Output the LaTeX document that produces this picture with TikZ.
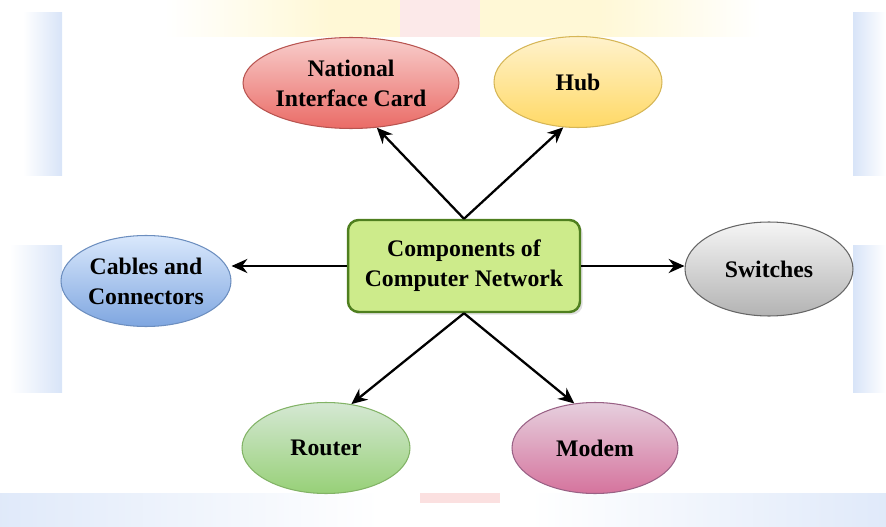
\documentclass[tikz,border=0pt]{standalone}
\usepackage{fontspec}
\setmainfont{Liberation Serif}
\usetikzlibrary{shapes.geometric,arrows.meta,shadows}

\definecolor{hubfill}{HTML}{CDEB8B}
\definecolor{hubdraw}{HTML}{4F7F1F}
\definecolor{wmblue}{HTML}{D8E4F8}
\definecolor{wmyellow}{HTML}{FFF8D6}
\definecolor{wmpink}{HTML}{F9D3D3}
\definecolor{nictop}{HTML}{F8CECC}\definecolor{nicbot}{HTML}{EA6B66}\definecolor{nicdraw}{HTML}{B85450}
\definecolor{hubtop}{HTML}{FFF2CC}\definecolor{hubbot}{HTML}{FFD966}\definecolor{hubline}{HTML}{D6B656}
\definecolor{cabtop}{HTML}{DAE8FC}\definecolor{cabbot}{HTML}{7EA6E0}\definecolor{cabdraw}{HTML}{6C8EBF}
\definecolor{swtop}{HTML}{F5F5F5}\definecolor{swbot}{HTML}{B3B3B3}\definecolor{swdraw}{HTML}{666666}
\definecolor{rttop}{HTML}{D5E8D4}\definecolor{rtbot}{HTML}{97D077}\definecolor{rtdraw}{HTML}{82B366}
\definecolor{mdtop}{HTML}{E6D0DE}\definecolor{mdbot}{HTML}{D5739D}\definecolor{mddraw}{HTML}{996185}

\begin{document}
\begin{tikzpicture}[x=0.02cm,y=-0.02cm,font=\bfseries\fontsize{13.5}{17}\selectfont,
  part/.style={ellipse,draw,line width=0.6pt,minimum width=3.36cm,minimum height=1.82cm,inner sep=0pt,align=center},
  link/.style={line width=1.3pt,-{Stealth[length=9pt,width=8pt]}}]
\useasboundingbox (0,0) rectangle (886,527);

% faint watermark round the white sheet
\begin{scope}
\fill[left color=white,right color=wmyellow] (165,0) rectangle (330,37);
\fill[wmyellow] (330,0) rectangle (600,37);
\fill[wmpink!50] (400,0) rectangle (480,37);
\fill[left color=wmyellow,right color=white] (600,0) rectangle (760,37);
\fill[left color=white,right color=wmblue] (23,13) rectangle (62,175);
\fill[left color=white,right color=wmblue] (10,245) rectangle (62,392);
\fill[left color=wmblue,right color=white] (853,13) rectangle (886,175);
\fill[left color=wmblue,right color=white] (853,245) rectangle (886,392);
\fill[left color=wmblue!80,right color=white] (0,493) rectangle (380,527);
\fill[left color=white,right color=wmblue!80] (530,493) rectangle (886,527);
\fill[wmpink!70] (420,493) rectangle (500,503);
\end{scope}

\node[rectangle,rounded corners=6pt,draw=hubdraw,line width=1.4pt,fill=hubfill,
  minimum width=4.64cm,minimum height=1.84cm,align=center,
  drop shadow={shadow xshift=1.5pt,shadow yshift=-1.5pt,opacity=0.25}]
  (comp) at (464,266) {Components of\\Computer Network};

\node[part,minimum width=4.32cm,draw=nicdraw,top color=nictop,bottom color=nicbot] (nic) at (351,83) {National\\Interface Card};
\node[part,draw=hubline,top color=hubtop,bottom color=hubbot] (hub) at (578,82) {Hub};
\node[part,minimum width=3.4cm,draw=cabdraw,top color=cabtop,bottom color=cabbot] (cables) at (146,281) {Cables and\\Connectors};
\node[part,minimum height=1.88cm,draw=swdraw,top color=swtop,bottom color=swbot] (switches) at (769,269) {Switches};
\node[part,draw=rtdraw,top color=rttop,bottom color=rtbot] (router) at (326,448) {Router};
\node[part,minimum width=3.32cm,draw=mddraw,top color=mdtop,bottom color=mdbot] (modem) at (595,448) {Modem};

\draw[link] (comp.north) -- (nic.-60);
\draw[link] (comp.north) -- (hub.-108);
\draw[link] (comp.west) -- (comp.west -| cables.east);
\draw[link] (comp.east) -- (comp.east -| switches.west);
\draw[link] (comp.south) -- (router.60);
\draw[link] (comp.south) -- (modem.115);

\end{tikzpicture}
\end{document}
